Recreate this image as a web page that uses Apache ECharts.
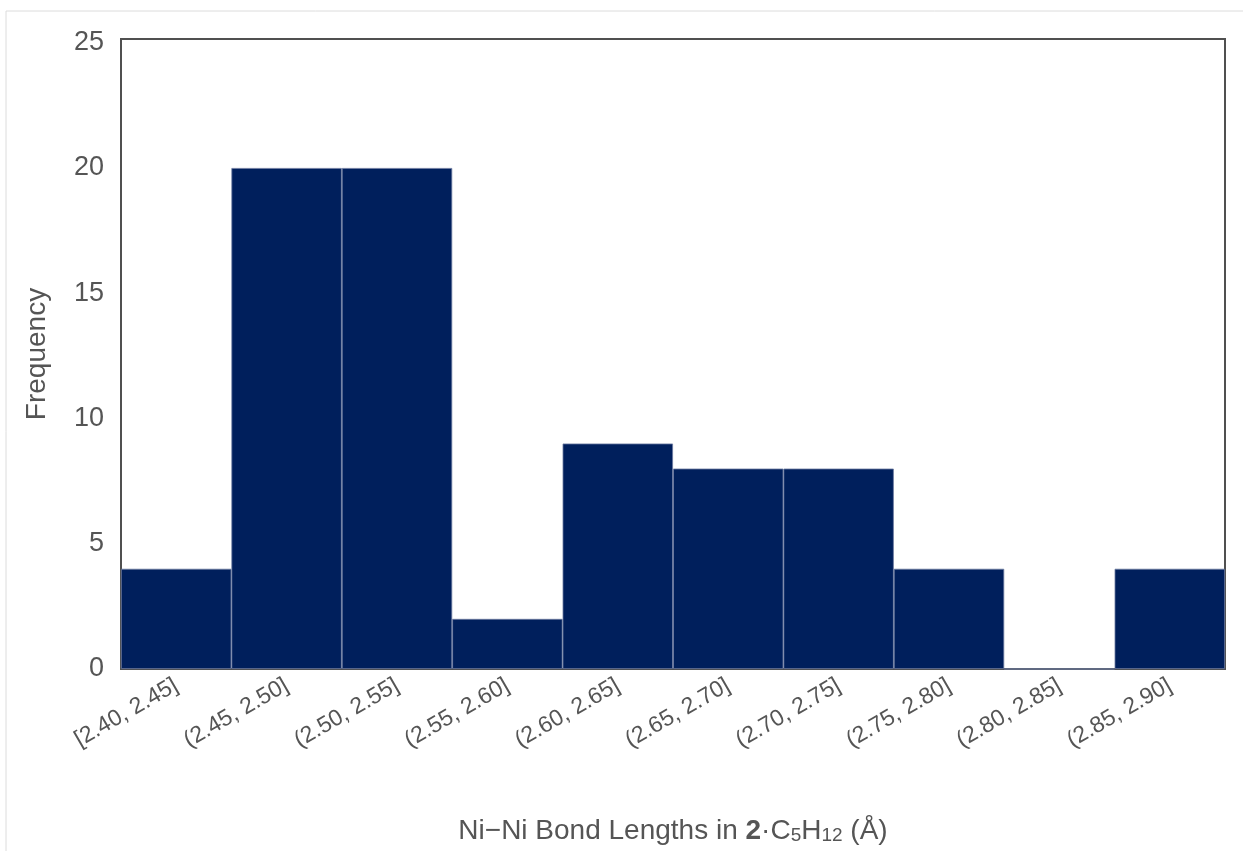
<!DOCTYPE html>
<html>
<head>
<meta charset="utf-8">
<script src="https://cdn.jsdelivr.net/npm/echarts@6/dist/echarts.min.js"></script>
<style>html,body{margin:0;padding:0;background:#fff}#c{width:1243px;height:851px}</style>
</head>
<body>
<div id="c"></div>
<script>
const categories = ['[2.40, 2.45]','(2.45, 2.50]','(2.50, 2.55]','(2.55, 2.60]','(2.60, 2.65]','(2.65, 2.70]','(2.70, 2.75]','(2.75, 2.80]','(2.80, 2.85]','(2.85, 2.90]'];
const frequency = [4, 20, 20, 2, 9, 8, 8, 4, 0, 4];
const yTicks = [0, 5, 10, 15, 20, 25];

const chart = echarts.init(document.getElementById('c'), null, {renderer: 'canvas'});
const font = 'Liberation Sans, Arial, sans-serif';
chart.setOption({
  animation: false,
  backgroundColor: '#fff',
  graphic: [{
    type: 'rect', shape: {x: 6, y: 11, width: 1260, height: 860},
    style: {fill: 'none', stroke: '#dcdcdc', lineWidth: 1}, silent: true
  }],
  grid: {left: 121, right: 18, top: 39, bottom: 182, show: true, borderColor: '#505050', borderWidth: 2},
  xAxis: {
    type: 'category', data: categories,
    axisLine: {show: false}, axisTick: {show: false},
    axisLabel: {rotate: 30, fontSize: 23, color: '#555', fontFamily: font, margin: 15, interval: 0},
    name: 'Ni\u2212Ni Bond Lengths in {b|2}\u00b7C{s|5}H{s|12} (\u00c5)',
    nameLocation: 'middle', nameGap: 148,
    nameTextStyle: {
      fontSize: 28, color: '#555', fontFamily: font,
      rich: {
        b: {fontSize: 28, fontWeight: 'bold', color: '#555', fontFamily: font},
        s: {fontSize: 19, color: '#555', fontFamily: font, verticalAlign: 'bottom', lineHeight: 14, padding: [14, 0, 0, 0]}
      }
    }
  },
  yAxis: {
    type: 'value', min: 0, max: 25.15, interval: 5,
    splitLine: {show: false}, axisLine: {show: false}, axisTick: {show: false},
    axisLabel: {fontSize: 27, color: '#555', fontFamily: font, margin: 17,
      formatter: v => yTicks.includes(v) ? String(v) : ''},
    name: 'Frequency', nameLocation: 'middle', nameGap: 70,
    nameTextStyle: {fontSize: 28, color: '#555', fontFamily: font}
  },
  series: [{
    type: 'bar', data: frequency, barWidth: '100%', barCategoryGap: 0,
    itemStyle: {color: '#001f5c', borderColor: '#6b7aa0', borderWidth: 0.8}
  }]
});
</script>
</body>
</html>
